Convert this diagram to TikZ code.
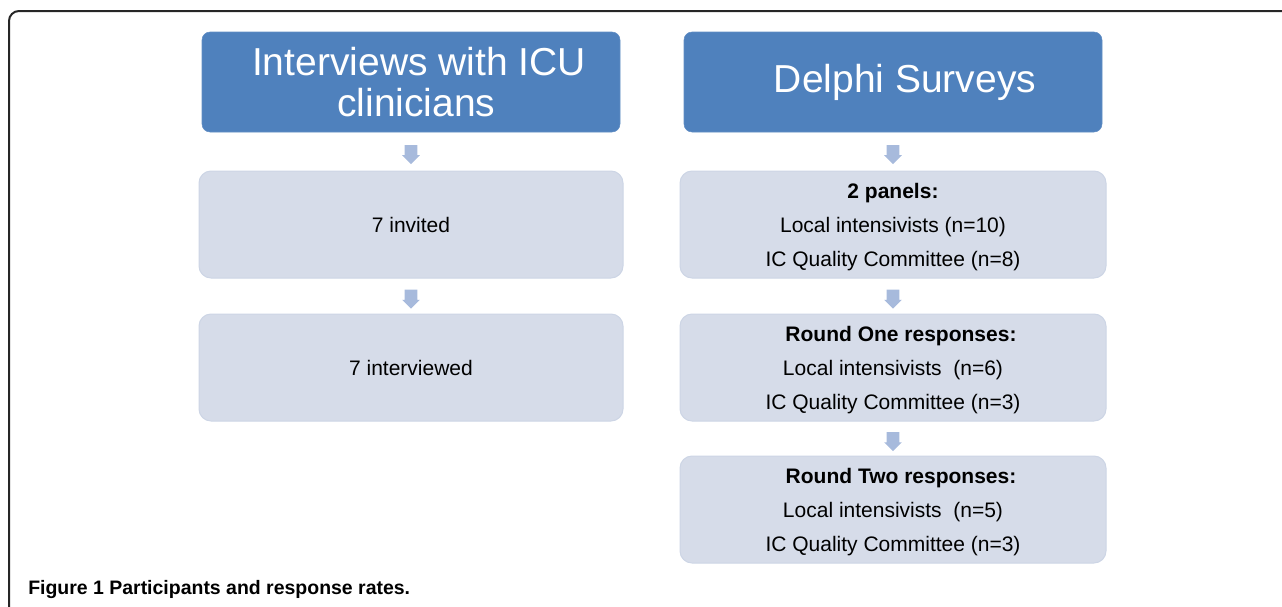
\documentclass[tikz,border=0pt]{standalone}
\usepackage{fontspec}
\setmainfont{Liberation Sans}
\usetikzlibrary{shapes.arrows,calc}

\definecolor{hdrblue}{RGB}{79,129,189}
\definecolor{boxfill}{RGB}{214,220,233}
\definecolor{boxline}{RGB}{205,213,229}
\definecolor{arrfill}{RGB}{167,186,220}

\tikzset{
  header/.style={fill=hdrblue, draw=hdrblue!90!white, rounded corners=6pt,
    minimum width=313.5pt, minimum height=75pt, inner sep=0pt, align=center,
    text=white, font=\fontsize{29.25}{30.75}\selectfont},
  stage/.style={fill=boxfill, draw=boxline, line width=0.75pt, rounded corners=9pt,
    minimum width=318pt, minimum height=80.25pt, inner sep=0pt, align=center,
    text depth=0pt, font=\fontsize{15.75}{25.5}\selectfont},
  wide/.style={minimum width=319.5pt},
  downarr/.style={single arrow, fill=arrfill, draw=none, shape border rotate=270,
    minimum height=14.25pt, inner sep=4.5pt, single arrow head extend=1.9pt}
}

\begin{document}
\begin{tikzpicture}[x=0.75pt, y=-0.75pt]

		\useasboundingbox (0,0) rectangle (1282,607);

		% Frame
		\draw[line width=1.5pt, draw=black!85, rounded corners=7.5pt] (1300,11) -- (9,11) -- (9,625) -- (30,625);

		% Interviews
		\node[header] (hint) at (411,82) {\hspace*{12pt}Interviews with ICU\\\hspace*{8pt}clinicians};
		\node[stage] (inv) at (411,224.5) {7 invited};
		\node[stage] (done) at (411,367.5) {7 interviewed};
		\node[downarr] (a1) at ($(hint.south)!0.5!(inv.north)$) {};
		\node[downarr] (a2) at ($(inv.south)!0.5!(done.north)$) {};

		% Delphi
		\node[header] (hdel) at (893,82) {\hspace*{18pt}Delphi Surveys};
		\node[stage, wide] (pan) at (893,224.5) {\textbf{2 panels:}\\Local intensivists (n=10)\\IC Quality Committee (n=8)};
		\node[stage, wide] (r1) at (893,367.5) {\textbf{\hspace*{12pt}Round One responses:}\\Local intensivists\ \ (n=6)\\IC Quality Committee (n=3)};
		\node[stage, wide] (r2) at (893,509.5) {\textbf{\hspace*{12pt}Round Two responses:}\\Local intensivists\ \ (n=5)\\IC Quality Committee (n=3)};
		\node[downarr] (b1) at ($(hdel.south)!0.5!(pan.north)$) {};
		\node[downarr] (b2) at ($(pan.south)!0.5!(r1.north)$) {};
		\node[downarr] (b3) at ($(r1.south)!0.5!(r2.north)$) {};

		% Caption
		\node[anchor=base west, inner sep=0pt, font=\fontsize{14.6}{16}\selectfont\bfseries] (cap) at (28,594) {Figure 1 Participants and response rates.};

	\end{tikzpicture}
\end{document}
